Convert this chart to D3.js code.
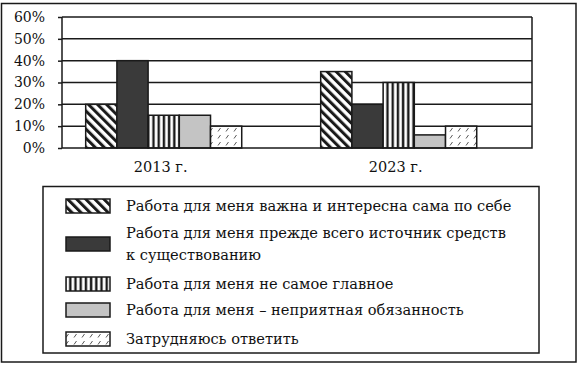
<!DOCTYPE html>
<html>
<head>
<meta charset="utf-8">
<script src="https://cdn.jsdelivr.net/npm/d3@7/dist/d3.min.js"></script>
<style>
  body { margin: 0; background: #fff; }
  svg text { font-family: "DejaVu Serif", serif; fill: #111; }
</style>
</head>
<body>
<svg id="chart" width="578" height="365"></svg>
<script>
const years = ["2013 г.", "2023 г."]
const answers = [
  "Работа для меня важна и интересна сама по себе",
  "Работа для меня прежде всего источник средств к существованию",
  "Работа для меня не самое главное",
  "Работа для меня – неприятная обязанность",
  "Затрудняюсь ответить"
]
const values2013 = [20, 40, 15, 15, 10]
const values2023 = [35, 20, 30, 6, 10]
const yTicks = [0, 10, 20, 30, 40, 50, 60]

// legend text is wrapped by hand like in the original
const legendLines = [
  ["Работа для меня важна и интересна сама по себе"],
  ["Работа для меня прежде всего источник средств", "к существованию"],
  ["Работа для меня не самое главное"],
  ["Работа для меня – неприятная обязанность"],
  ["Затрудняюсь ответить"]
]

const fills = ["url(#diag)", "#3a3a3a", "url(#vert)", "#c4c4c4", "url(#dash)"]

const ink = "#1a1a1a"
const svg = d3.select("#chart")

// patterns
const defs = svg.append("defs")
const diag = defs.append("pattern").attr("id", "diag")
  .attr("patternUnits", "userSpaceOnUse").attr("width", 6.4).attr("height", 10)
  .attr("patternTransform", "rotate(-45)")
diag.append("rect").attr("width", 6.4).attr("height", 10).attr("fill", "#fff")
diag.append("rect").attr("width", 3).attr("height", 10).attr("fill", ink)

const vert = defs.append("pattern").attr("id", "vert")
  .attr("patternUnits", "userSpaceOnUse").attr("width", 5.2).attr("height", 10)
vert.append("rect").attr("width", 5.2).attr("height", 10).attr("fill", "#fff")
vert.append("rect").attr("x", 1.5).attr("width", 2.4).attr("height", 10).attr("fill", ink)

const dash = defs.append("pattern").attr("id", "dash")
  .attr("patternUnits", "userSpaceOnUse").attr("width", 8).attr("height", 7)
dash.append("rect").attr("width", 8).attr("height", 7).attr("fill", "#fff")
dash.append("line").attr("x1", 2).attr("y1", 5.5).attr("x2", 4.5).attr("y2", 2)
  .attr("stroke", "#444").attr("stroke-width", 0.9)

// outer frame
svg.append("rect")
  .attr("x", 1.5).attr("y", 3.5).attr("width", 574.5).attr("height", 358.5)
  .attr("fill", "none").attr("stroke", ink).attr("stroke-width", 1.5)

const plotLeft = 62, plotRight = 532, plotTop = 17, plotBottom = 148

const y = d3.scaleLinear().domain([0, 60]).range([plotBottom, plotTop])
const x0 = d3.scaleBand().domain(years).range([plotLeft, plotRight])
  .paddingInner(0.336).paddingOuter(0.168).align(0.3)
const x1 = d3.scaleBand().domain(d3.range(answers.length)).range([0, x0.bandwidth()])

// gridlines
svg.append("g").selectAll("line")
  .data(yTicks.slice(1))
  .join("line")
  .attr("x1", plotLeft).attr("x2", plotRight)
  .attr("y1", d => y(d)).attr("y2", d => y(d))
  .attr("stroke", ink).attr("stroke-width", 1.5)

// y axis
const yAxis = svg.append("g")
  .attr("transform", `translate(${plotLeft},0)`)
  .call(d3.axisLeft(y).tickValues(yTicks).tickFormat(d => d + "%").tickSize(4).tickPadding(13))
yAxis.select(".domain").remove()
yAxis.selectAll(".tick line").attr("stroke", ink).attr("stroke-width", 1.5)
yAxis.selectAll(".tick text").attr("font-size", 14).attr("fill", ink)

// bars
const series = [values2013, values2023]
years.forEach((yr, i) => {
  svg.append("g").selectAll("rect")
    .data(series[i])
    .join("rect")
    .attr("x", (d, j) => x0(yr) + x1(j))
    .attr("y", d => y(d))
    .attr("width", x1.bandwidth())
    .attr("height", d => y(0) - y(d))
    .attr("fill", (d, j) => fills[j])
    .attr("stroke", ink).attr("stroke-width", 1.5)
})

// plot frame (left, right, bottom)
svg.append("path")
  .attr("d", `M${plotLeft},${plotTop}V${plotBottom}H${plotRight}V${plotTop}`)
  .attr("fill", "none").attr("stroke", ink).attr("stroke-width", 1.5)

// x labels
svg.append("g").selectAll("text")
  .data(years)
  .join("text")
  .attr("x", d => x0(d) + x0.bandwidth() / 2 - 3)
  .attr("y", 172)
  .attr("text-anchor", "middle")
  .attr("font-size", 14.5)
  .text(d => d)

// legend
svg.append("rect")
  .attr("x", 43).attr("y", 186.5).attr("width", 496).attr("height", 166.5)
  .attr("fill", "none").attr("stroke", ink).attr("stroke-width", 1.5)

const rowY = [206, 244, 284, 310, 339]
const items = svg.append("g").selectAll("g")
  .data(answers)
  .join("g")
  .attr("transform", (d, i) => `translate(0,${rowY[i]})`)

items.append("rect")
  .attr("x", 66).attr("y", -7).attr("width", 44).attr("height", 14)
  .attr("fill", (d, i) => fills[i])
  .attr("stroke", ink).attr("stroke-width", 1.5)

items.append("text")
  .attr("x", 126)
  .attr("font-size", 14.6)
  .selectAll("tspan")
  .data((d, i) => legendLines[i].map((t, k, a) => ({t, k, n: a.length})))
  .join("tspan")
  .attr("x", 126)
  .attr("y", d => (d.k - (d.n - 1) / 2) * 22 + 5)
  .text(d => d.t)
</script>
</body>
</html>
